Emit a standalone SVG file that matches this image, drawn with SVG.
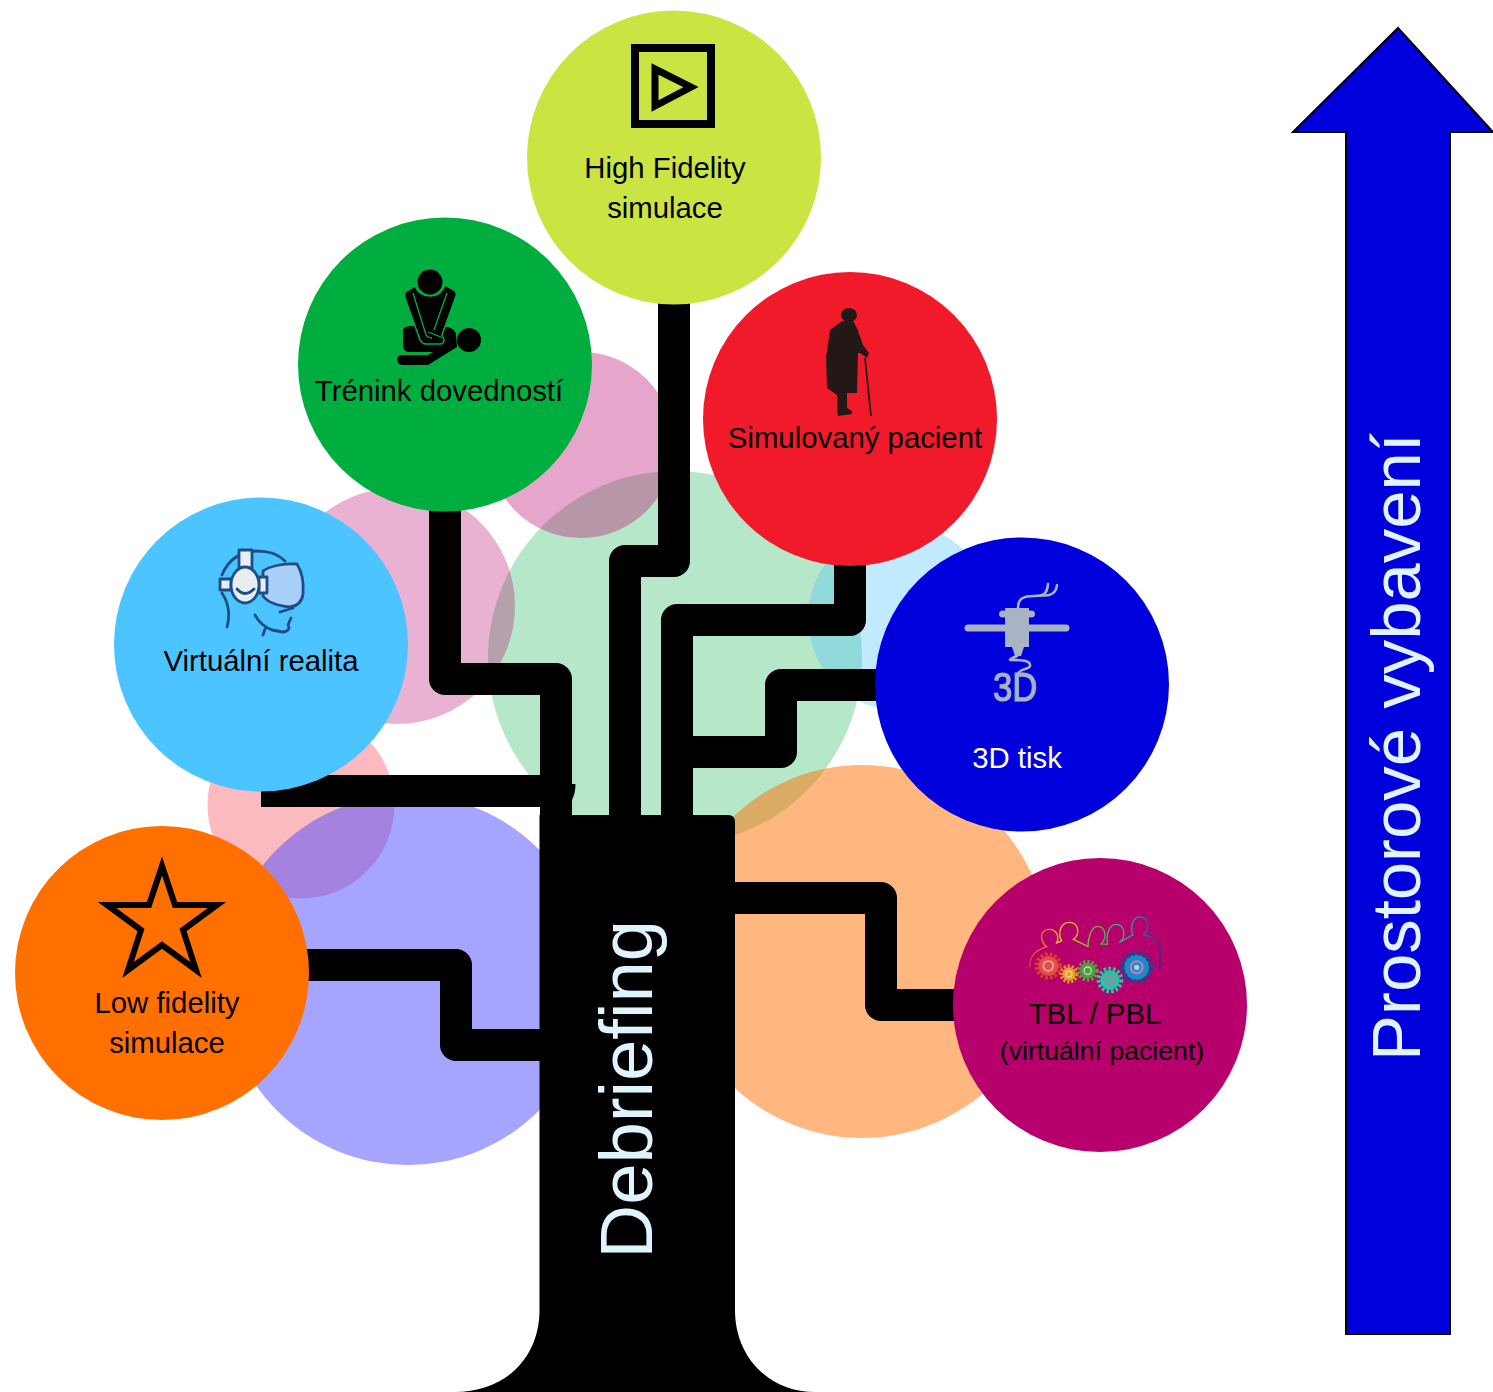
<svg xmlns="http://www.w3.org/2000/svg" width="1493" height="1392" viewBox="0 0 1493 1392">
<style>
text{font-family:"Liberation Sans",Arial,sans-serif;fill:#000}
.lb{font-size:29.33px;text-anchor:middle}
.big{fill:#dff4ff}
.node{stroke:none}
.wire{fill:none;stroke:#000;stroke-width:32;stroke-linejoin:round}
.vr{stroke:#1f4e86;stroke-width:2.8;stroke-linecap:round;stroke-linejoin:round}
.p3{fill:#a8b4c4}
.fil{fill:none;stroke:#a8b4c4;stroke-width:2.6;stroke-linecap:round}
</style>
<defs>
<linearGradient id="pg" x1="0" x2="1" y1="0" y2="0">
<stop offset="0" stop-color="#d8403a"/><stop offset=".25" stop-color="#e8d020"/><stop offset=".5" stop-color="#6cb030"/><stop offset=".75" stop-color="#20b0a0"/><stop offset="1" stop-color="#1a3a90"/>
</linearGradient>
</defs>
<g id="background-circles">
<circle cx="675" cy="658" r="187" fill="#00ae40" opacity=".29"/>
<circle cx="301" cy="805" r="93.500" fill="#f11a2a" opacity=".3"/>
<circle cx="408" cy="980" r="185" fill="#4c4cff" opacity=".5"/>
<circle cx="862" cy="951.500" r="186.500" fill="#ff7000" opacity=".5"/>
<circle cx="397" cy="606" r="118" fill="#b7006b" opacity=".3"/>
<circle cx="581" cy="445" r="93" fill="#b7006b" opacity=".35"/>
<circle cx="901" cy="618" r="93" fill="#4cc4ff" opacity=".35"/>
</g>
<g id="connectors">
<path class="wire" d="M674 300V561H625V830"/>
<path class="wire" d="M445 505V679H556V830"/>
<path class="wire" d="M261 791H556"/>
<path d="M565 784H575.500Q575.500 793 572 800H565Z" fill="#000"/>
<path class="wire" d="M850 560V620H677V830"/>
<path class="wire" d="M880 685H781V752H680"/>
<path class="wire" d="M305 965H456V1045H545"/>
<path class="wire" d="M730 898H881V1005H960"/>
</g>
<g id="trunk">
<path d="M539.500 815H728Q735 815 735 822V1310C735 1358 770 1392 815 1392H455C505 1392 539.500 1358 539.500 1310Z" fill="#000"/>
<text class="big" transform="translate(652 1258.500) rotate(-90)" font-size="74.300">Debriefing</text>
</g>
<g id="node-high-fidelity">
<circle class="node" cx="674" cy="157.500" r="147" fill="#cae441"/>
<rect x="635" y="48" width="76" height="76" fill="none" stroke="#000" stroke-width="8"/>
<path d="M655 69V106L691 87Z" fill="none" stroke="#000" stroke-width="7"/>
<text class="lb" x="665" y="178">High Fidelity</text>
<text class="lb" x="665" y="218">simulace</text>
</g>
<g id="node-trenink">
<circle class="node" cx="445" cy="364.500" r="147" fill="#00ae40"/>
<circle cx="430" cy="282" r="12.500" fill="#000"/>
<circle cx="469" cy="340" r="12" fill="#000"/>
<path d="M403 330Q404 326 412 326L448 327Q455 329 456 334L457 347L428 365H402Q397 364 397 359Q398 355 402 355H428L433 352H408Q403 351 403 345Z" fill="#000"/>
<path d="M405 292Q404 295 405 298L420 340Q422 344 426 344H440Q444 344 444 340L442 335L456 296Q457 292 454 290L445 285Q441 296 430 296Q419 296 415 286Z" fill="#000" stroke="#00ae40" stroke-width="1.500"/>
<path d="M413 293L426 335Q428 338 432 338M447 293L434 330M428 332L441 337" fill="none" stroke="#00ae40" stroke-width="1.300"/>
<text class="lb" x="439" y="401">Trénink dovedností</text>
</g>
<g id="node-simulovany">
<circle class="node" cx="850" cy="419" r="147" fill="#f11a2a"/>
<ellipse cx="849" cy="315" rx="8" ry="7" fill="#231815"/>
<path d="M842 321L853 321L857 328L863 345L869 353L867 358L860 353L858 353L857 393H847L847 408L852 411L852 414L838 416L837 410L837 395L827 388L826 357L830 330Z" fill="#231815"/>
<path d="M865 358L871 416" fill="none" stroke="#231815" stroke-width="1.800"/>
<text class="lb" x="855" y="448">Simulovaný pacient</text>
</g>
<g id="node-3d">
<circle class="node" cx="1022" cy="684.500" r="147" fill="#0000dc"/>
<path d="M968 628H1066" stroke="#a8b4c4" stroke-width="7" stroke-linecap="round"/>
<ellipse cx="1003" cy="614" rx="4" ry="3.500" class="p3"/>
<ellipse cx="1031" cy="614" rx="4" ry="3.500" class="p3"/>
<rect x="1005" y="608" width="24" height="39" class="p3"/>
<path d="M1012 647H1024L1021 656H1015Z" class="p3"/>
<path class="fil" d="M1018 608C1018 598 1024 596 1034 596C1044 596 1047 594 1048 584M1034 596C1048 596 1056 596 1057 585"/>
<path class="fil" d="M1017 656C1012 658 1008 660 1011 660C1020 660 1031 660 1030 666C1029 670 1020 668 1018 674"/>
<text x="993" y="701" font-size="41" textLength="44" lengthAdjust="spacingAndGlyphs" stroke="#a8b4c4" stroke-width="1.200" style="fill:#a8b4c4">3D</text>
<text class="lb" x="1017" y="768" style="fill:#fff">3D tisk</text>
</g>
<g id="node-tbl">
<circle class="node" cx="1100" cy="1005" r="147" fill="#b7006b"/>
<g transform="translate(1020 905) scale(.3333)">
<path d="M30 187C26 155 50 135 80 125C56 105 62 73 88 73C112 73 120 100 108 115L125 107C112 85 122 52 148 52C176 52 182 88 160 103L204 124C204 100 215 64 232 64C258 64 262 100 243 117L262 118C258 88 268 58 288 58C316 58 318 100 298 112L338 90C330 60 340 36 360 36C388 36 390 72 372 90C400 95 420 112 420 130V187H395" fill="none" stroke="url(#pg)" stroke-width="4"/>
<circle cx="85" cy="183" r="30" fill="#e0504a"/><circle cx="85" cy="183" r="35" fill="none" stroke="#d8402a" stroke-width="12" stroke-dasharray="8 6"/><circle cx="85" cy="183" r="15" fill="none" stroke="#f0a8a0" stroke-width="5"/>
<circle cx="147" cy="207" r="20" fill="#e8a020"/><circle cx="147" cy="207" r="24" fill="none" stroke="#e09a20" stroke-width="9" stroke-dasharray="7 5"/><circle cx="147" cy="207" r="9" fill="none" stroke="#f0c8a0" stroke-width="4"/>
<circle cx="203" cy="197" r="24" fill="#4aa040"/><circle cx="203" cy="197" r="28" fill="none" stroke="#50a838" stroke-width="10" stroke-dasharray="7 6"/><circle cx="203" cy="197" r="11" fill="none" stroke="#c8d8b0" stroke-width="4"/>
<circle cx="270" cy="225" r="29" fill="#20c8a8"/><circle cx="270" cy="225" r="34" fill="none" stroke="#20c8a8" stroke-width="12" stroke-dasharray="8 6"/><circle cx="270" cy="225" r="14" fill="none" stroke="#e060b0" stroke-width="5"/>
<circle cx="350" cy="187" r="38" fill="#1090c8"/><circle cx="350" cy="187" r="43" fill="none" stroke="#104a98" stroke-width="14" stroke-dasharray="9 8"/><circle cx="350" cy="187" r="18" fill="none" stroke="#e070b8" stroke-width="6"/><circle cx="350" cy="187" r="8" fill="#a0d8f0"/>
</g>
<text class="lb" x="1095" y="1024">TBL / PBL</text>
<text class="lb" x="1102" y="1060" style="font-size:26.67px">(virtuální pacient)</text>
</g>
<g id="node-low-fidelity">
<circle class="node" cx="162" cy="973" r="147" fill="#ff7000"/>
<path d="M162 866L175 905H217L183 930L196 970L162 945L128 970L141 930L107 905H149Z" fill="none" stroke="#000" stroke-width="6" stroke-miterlimit="12"/>
<text class="lb" x="167" y="1013">Low fidelity</text>
<text class="lb" x="167" y="1053">simulace</text>
</g>
<g id="node-vr">
<circle class="node" cx="261" cy="644.500" r="147" fill="#4cc4ff"/>
<path class="vr" fill="none" d="M222 575C228 560 240 552 256 551C270 551 278 554 285 561M222 593C228 602 231 612 227 627M255 615C258 621 264 627 272 630L283 632C289 631 290 628 288 625L291 618M265 629L263 635M280 612L293 608"/>
<path class="vr" fill="#a9d0fb" d="M263 571C270 566 285 563 297 564C302 572 304 582 303 594C302 602 297 606 290 607C280 606 268 603 263 596Z"/>
<rect class="vr" x="239" y="550" width="13" height="18" fill="#e8edf2"/>
<rect class="vr" x="220" y="579" width="11" height="11" fill="#e8edf2"/>
<rect class="vr" x="259" y="577" width="8" height="16" fill="#e8edf2"/>
<ellipse class="vr" cx="245" cy="585" rx="14" ry="18" fill="#e8edf2"/>
<path class="vr" fill="none" d="M237 589Q245 598 254 589"/>
<text class="lb" x="261" y="671">Virtuální realita</text>
</g>
<g id="arrow">
<path d="M1398 28L1493 132H1450V1334H1346V132H1293Z" fill="#0000dc" stroke="#000" stroke-width="2"/>
<text class="big" transform="translate(1420 1061) rotate(-90)" font-size="68.900">Prostorové vybavení</text>
</g>
</svg>
